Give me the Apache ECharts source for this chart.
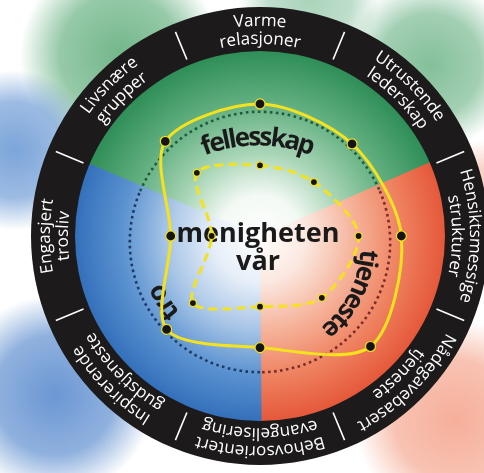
<!DOCTYPE html>
<html>
<head>
<meta charset="utf-8">
<script src="https://cdn.jsdelivr.net/npm/echarts@6/dist/echarts.min.js"></script>
<style>
  html, body { margin: 0; padding: 0; background: #fff; }
  #chart { width: 484px; height: 473px; }
</style>
</head>
<body>
<div id="chart"></div>
<script>
// axes, clockwise from the top
const axisNames = [
  ["Varme", "relasjoner"],
  ["Utrustende", "lederskap"],
  ["Hensiktsmessige", "strukturer"],
  ["Nådegavebasert", "tjeneste"],
  ["Behovsorientert", "evangelisering"],
  ["Inspirerende", "gudstjeneste"],
  ["Engasjert", "trosliv"],
  ["Livsnære", "grupper"]
];
const axisAngles = [0, 45, 90, 135, 180, 225, 270, 315];
const solidValues = [71, 70, 76, 84, 60, 71, 48, 72];
const dashedValues = [38, 41, 53, 47, 38, 51, 26, 48];
const referenceLevel = 70;
const centerTitle = ["menigheten", "vår"];
const zoneWords = ["fellesskap", "tjeneste", "tro"];

const CX = 260, CY = 236;
const R_IN = 185, R_OUT = 229, POLAR_R = 186;
const YELLOW = "#f4e21e";

const deg = a => a * Math.PI / 180;
const zrAngle = a => deg(a - 90); // clockwise-from-top degrees -> zrender radians

const measureCtx = document.createElement("canvas").getContext("2d");

// text laid along a circle, letters' tops pointing outward, reading clockwise
function arcText(text, cx, cy, r, angle, font, color, z, spacing) {
  measureCtx.font = font;
  const chars = [...text];
  const widths = chars.map(ch => measureCtx.measureText(ch).width + spacing);
  const total = widths.reduce((a, b) => a + b, 0) - spacing;
  let pos = -total / 2;
  return chars.map((ch, i) => {
    const mid = pos + (widths[i] - spacing) / 2;
    pos += widths[i];
    const a = deg(angle) + mid / r;
    return {
      type: "text",
      x: cx + r * Math.sin(a),
      y: cy - r * Math.cos(a),
      rotation: -a,
      z: z,
      silent: true,
      style: {
        text: ch, font: font, fill: color,
        align: "center", verticalAlign: "middle",
        textAlign: "center", textVerticalAlign: "middle"
      }
    };
  });
}

function blob(cx, cy, r, rgb, alpha) {
  return {
    type: "circle", z: 0, silent: true,
    shape: { cx: cx, cy: cy, r: r },
    style: {
      fill: new echarts.graphic.RadialGradient(0.5, 0.5, 0.5, [
        { offset: 0, color: "rgba(" + rgb + "," + alpha + ")" },
        { offset: 0.6, color: "rgba(" + rgb + "," + alpha * 0.75 + ")" },
        { offset: 1, color: "rgba(" + rgb + ",0)" }
      ])
    }
  };
}

function zone(start, end, stops) {
  return {
    type: "sector", z: 1, silent: true,
    shape: { cx: CX, cy: CY, r0: 0, r: R_IN + 4, startAngle: zrAngle(start), endAngle: zrAngle(end), clockwise: true },
    style: { fill: new echarts.graphic.RadialGradient(CX, CY, R_IN, stops, true) }
  };
}

const graphics = [];
// soft colour patches outside the ring
graphics.push(blob(120, 55, 100, "80,165,110", 0.8));
graphics.push(blob(310, 0, 70, "100,175,130", 0.55));
graphics.push(blob(430, 65, 85, "90,170,120", 0.75));
graphics.push(blob(15, 150, 80, "80,135,205", 0.75));
graphics.push(blob(55, 395, 100, "70,125,200", 0.8));
graphics.push(blob(455, 420, 100, "242,140,110", 0.7));
graphics.push(blob(480, 210, 70, "242,150,120", 0.55));

// three coloured zones inside the ring
graphics.push(zone(292.5, 427.5, [
  { offset: 0, color: "#ffffff" }, { offset: 0.22, color: "#f3f9f4" },
  { offset: 0.45, color: "#a8d5b6" }, { offset: 0.72, color: "#62af80" },
  { offset: 1, color: "#2f8e58" }
]));
graphics.push(zone(66.5, 180.5, [
  { offset: 0, color: "#ffffff" }, { offset: 0.25, color: "#fbe8e0" },
  { offset: 0.5, color: "#f6b59d" }, { offset: 0.75, color: "#ef8462" },
  { offset: 1, color: "#e5583a" }
]));
graphics.push(zone(179.5, 293, [
  { offset: 0, color: "#ffffff" }, { offset: 0.25, color: "#e8eff9" },
  { offset: 0.5, color: "#a9c6e7" }, { offset: 0.75, color: "#5b92d0" },
  { offset: 1, color: "#3470bb" }
]));

// dotted reference circle
const dotR = referenceLevel / 100 * POLAR_R;
[[293, 427, "#1f5a3c"], [67, 180, "#7a2c2c"], [180, 293, "#1e3a66"]].forEach(function (seg) {
  graphics.push({
    type: "arc", z: 2, silent: true,
    shape: { cx: CX, cy: CY + 6, r: dotR, startAngle: zrAngle(seg[0]), endAngle: zrAngle(seg[1]), clockwise: true },
    style: { fill: null, stroke: seg[2], lineWidth: 2.6, lineDash: [2.6, 3.4] }
  });
});

// dark ring with dividers and labels
graphics.push({
  type: "ring", z: 3, silent: true,
  shape: { cx: CX, cy: CY, r: R_OUT, r0: R_IN },
  style: { fill: "#1c1a1a" }
});
axisAngles.forEach(function (a, i) {
  const d = deg(a + 22.5);
  graphics.push({
    type: "line", z: 4, silent: true,
    shape: { x1: CX + 191 * Math.sin(d), y1: CY - 191 * Math.cos(d), x2: CX + 221 * Math.sin(d), y2: CY - 221 * Math.cos(d) },
    style: { stroke: "#ffffff", lineWidth: 1.6 }
  });
  const font = '17px "Open Sans"';
  arcText(axisNames[i][0], CX, CY, 215, a, font, "#ffffff", 4, 0.2).forEach(g => graphics.push(g));
  arcText(axisNames[i][1], CX, CY, 197, a, font, "#ffffff", 4, 0.2).forEach(g => graphics.push(g));
});

// words inside the circle
const bold = 'bold 26px "Open Sans"';
arcText(zoneWords[0], 258, 292, 154, 0, bold, "#1a1a1a", 3, -1.8).forEach(g => graphics.push(g));
arcText(zoneWords[1], 255, 245, 113, 117, bold, "#1a1a1a", 3, -1.4).forEach(g => graphics.push(g));
arcText(zoneWords[2], 255, 245, 108, 238, bold, "#1a1a1a", 3, -1.2).forEach(g => graphics.push(g));
centerTitle.forEach(function (t, i) {
  graphics.push({
    type: "text", z: 3, silent: true, x: 258, y: 234 + i * 28,
    style: {
      text: t, font: 'bold 27px "Open Sans"', fill: "#1a1a1a",
      align: "center", verticalAlign: "middle", textAlign: "center", textVerticalAlign: "middle"
    }
  });
});

function outline(values, dashed) {
  return {
    type: "custom",
    coordinateSystem: "polar",
    z: 5,
    silent: true,
    data: values.map((v, i) => [v, axisAngles[i]]),
    renderItem: function (params, api) {
      if (params.dataIndex !== 0) return null;
      const pts = values.map((v, i) => api.coord([v, axisAngles[i]]));
      return {
        type: "polygon",
        shape: { points: pts, smooth: 0.3 },
        style: { fill: "transparent", stroke: YELLOW, lineWidth: 3, lineDash: dashed ? [9, 5] : null }
      };
    }
  };
}

function dots(values, size) {
  return {
    type: "scatter",
    coordinateSystem: "polar",
    z: 6,
    silent: true,
    symbolSize: size,
    itemStyle: { color: "#141414", borderColor: YELLOW, borderWidth: 1.2, opacity: 1 },
    data: values.map((v, i) => [v, axisAngles[i]])
  };
}

const chart = echarts.init(document.getElementById("chart"));
chart.setOption({
  animation: false,
  backgroundColor: "#ffffff",
  polar: { center: [CX, CY], radius: POLAR_R },
  angleAxis: { type: "value", min: 0, max: 360, startAngle: 90, clockwise: true, show: false },
  radiusAxis: { type: "value", min: 0, max: 100, show: false },
  graphic: { elements: graphics },
  series: [
    outline(solidValues, false),
    outline(dashedValues, true),
    dots(solidValues, 10),
    dots(dashedValues, 7)
  ]
});
</script>
</body>
</html>
